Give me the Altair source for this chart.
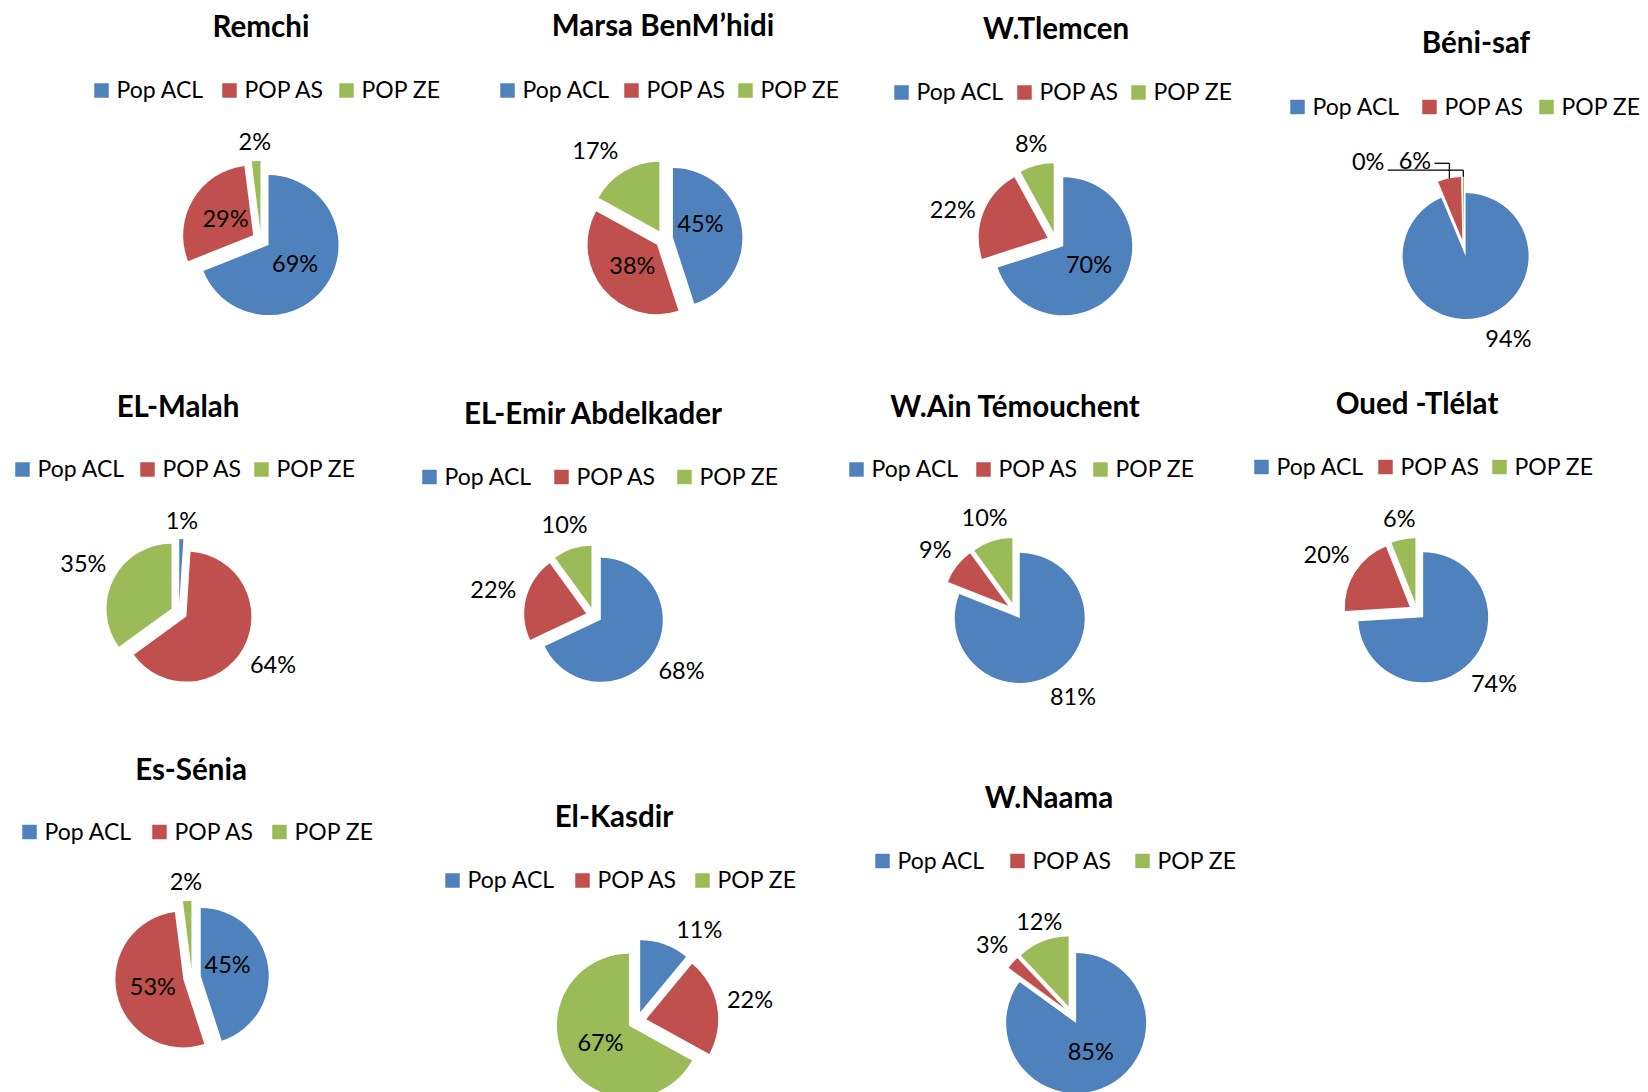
import altair as alt
import pandas as pd

# ---------------- data ----------------
charts = ["Remchi", "Marsa BenM’hidi", "W.Tlemcen", "Béni-saf",
          "EL-Malah", "EL-Emir Abdelkader", "W.Ain Témouchent", "Oued -Tlélat",
          "Es-Sénia", "El-Kasdir", "W.Naama"]
categories = ["Pop ACL", "POP AS", "POP ZE"]
pop_acl = [69, 45, 70, 94, 1, 68, 81, 74, 45, 11, 85]
pop_as = [29, 38, 22, 6, 64, 22, 9, 20, 53, 22, 3]
pop_ze = [2, 17, 8, 0.3, 35, 10, 10, 6, 2, 67, 12]
series = [pop_acl, pop_as, pop_ze]
colors = ["#4F81BD", "#C0504D", "#9BBB59"]

# ---------------- layout (page pixels) ----------------
# tx, ty: title centre / baseline; ly: legend row centre; lx: legend square left edges
# cx, cy, r: pie centre and radius; thr: share from which a label sits inside
layout = {
    "Remchi":             dict(tx=261, ty=37, ly=90.5, lx=[94, 222, 339], cx=261, cy=240, r=70, thr=0.25),
    "Marsa BenM’hidi":    dict(tx=663, ty=36, ly=90.5, lx=[500, 624, 738], cx=664, cy=239, r=69.5, thr=0.30),
    "W.Tlemcen":          dict(tx=1056, ty=39, ly=92.5, lx=[894, 1017, 1131], cx=1056, cy=241, r=69, thr=0.50),
    "Béni-saf":           dict(tx=1476, ty=53, ly=107, lx=[1290, 1422, 1539], cx=1464, cy=248, r=63, thr=2),
    "EL-Malah":           dict(tx=178, ty=417, ly=469.5, lx=[15, 140, 254], cx=179, cy=612.5, r=65, thr=2),
    "EL-Emir Abdelkader": dict(tx=593, ty=424, ly=477, lx=[422, 554, 677], cx=594, cy=615.5, r=62, thr=2),
    "W.Ain Témouchent":   dict(tx=1015, ty=417, ly=469.5, lx=[849, 976, 1093], cx=1015, cy=611, r=65, thr=2),
    "Oued -Tlélat":       dict(tx=1417, ty=414, ly=467, lx=[1254, 1378, 1492], cx=1417, cy=611.5, r=65, thr=2),
    "Es-Sénia":           dict(tx=191, ty=780, ly=832, lx=[22, 152, 272], cx=192, cy=977.5, r=68, thr=0.40),
    "El-Kasdir":          dict(tx=614, ty=827, ly=880.5, lx=[445, 575, 695], cx=637, cy=1021, r=72, thr=0.50),
    "W.Naama":            dict(tx=1049, ty=808, ly=861, lx=[875, 1010, 1135], cx=1072, cy=1015, r=70, thr=0.50),
}
# manual label moves (dx, dy, leader-line dy or None)
label_nudge = {
    ("Béni-saf", "Pop ACL"): (26, -2, None),
    ("Béni-saf", "POP AS"): (-30, 3, 3),
    ("Béni-saf", "POP ZE"): (-95, 3, 9),
    ("El-Kasdir", "Pop ACL"): (26, 9, None),
    ("Marsa BenM’hidi", "Pop ACL"): (-4, -9, None),
    ("Marsa BenM’hidi", "POP ZE"): (-14, 4, None),
    ("W.Tlemcen", "POP AS"): (1, 10, None),
    ("Es-Sénia", "Pop ACL"): (-4, -7, None),
    ("W.Naama", "POP ZE"): (6, 4, None),
}

rows = []
for i, ch in enumerate(charts):
    L = layout[ch]
    for j, cat in enumerate(categories):
        nd = label_nudge.get((ch, cat), (0, 0, None))
        rows.append(dict(chart=ch, category=cat, ord=j, value=series[j][i],
                         cx=L["cx"], cy=L["cy"], r=L["r"], thr=L["thr"],
                         ndx=nd[0], ndy=nd[1], lead=0 if nd[2] is None else 1,
                         ldy=0 if nd[2] is None else nd[2]))
pie_df = pd.DataFrame(rows)

title_df = pd.DataFrame([dict(chart=ch, tx=layout[ch]["tx"], ty=layout[ch]["ty"]) for ch in charts])
leg_rows = []
for ch in charts:
    L = layout[ch]
    for j, cat in enumerate(categories):
        leg_rows.append(dict(chart=ch, category=cat, sqx=L["lx"][j] + 7.5,
                             txx=L["lx"][j] + 22.5, ly=L["ly"]))
leg_df = pd.DataFrame(leg_rows)

FONT = "Lato"
H = 1084
XS = alt.Scale(domain=[8, 1640], range=[0, 1632], nice=False, zero=False)
YS = alt.Scale(domain=[8, 8 + H], range=[0, H], nice=False, zero=False)
CS = alt.Scale(domain=categories, range=colors)

base = (
    alt.Chart(pie_df)
    .transform_joinaggregate(total="sum(value)", groupby=["chart"])
    .transform_window(cum="sum(value)", groupby=["chart"],
                      sort=[alt.SortField("ord", order="ascending")], frame=[None, 0])
    .transform_calculate(t1="2*PI*datum.cum/datum.total")
    .transform_calculate(t0="datum.t1 - 2*PI*datum.value/datum.total")
    .transform_calculate(mid="(datum.t0 + datum.t1)/2", pct="datum.value/datum.total")
    .transform_calculate(sx="sin(datum.mid)", sy="-cos(datum.mid)", e="0.13*datum.r",
                         lab="format(datum.pct, '.0%')")
    .transform_calculate(px="datum.cx + datum.e*datum.sx", py="datum.cy + datum.e*datum.sy",
                         hw="(14*(length(datum.lab)-1) + 17)/2")
    .transform_calculate(
        dist="datum.pct >= datum.thr ? datum.e + 0.46*datum.r : "
             "datum.r + datum.e + 10 + datum.hw*abs(datum.sx) + 8.5*abs(datum.sy)")
    .transform_calculate(lx="datum.cx + datum.dist*datum.sx + datum.ndx",
                         ly="datum.cy + datum.dist*datum.sy + datum.ndy",
                         ox="datum.cx + (datum.r + datum.e)*datum.sx",
                         oy="datum.cy + (datum.r + datum.e)*datum.sy")
    .transform_calculate(hx="datum.lx + datum.hw + 4", hy="datum.ly + datum.ldy")
)

arcs = base.mark_arc().encode(
    x=alt.X("px:Q", scale=XS, axis=None),
    y=alt.Y("py:Q", scale=YS, axis=None),
    theta=alt.Theta("t0:Q", scale=None, stack=False),
    theta2=alt.Theta2("t1:Q"),
    radius=alt.Radius("r:Q", scale=None, stack=False),
    color=alt.Color("category:N", scale=CS, legend=None),
)

lead_h = base.transform_filter("datum.lead == 1").mark_rule(color="black", strokeWidth=1.3).encode(
    x=alt.X("hx:Q", scale=XS, axis=None), x2="ox:Q",
    y=alt.Y("hy:Q", scale=YS, axis=None))
lead_v = base.transform_filter("datum.lead == 1").mark_rule(color="black", strokeWidth=1.3).encode(
    x=alt.X("ox:Q", scale=XS, axis=None),
    y=alt.Y("hy:Q", scale=YS, axis=None), y2="oy:Q")

labels = base.mark_text(font=FONT, fontSize=23.5, align="center", baseline="alphabetic",
                        dy=8.4, color="black").encode(
    x=alt.X("lx:Q", scale=XS, axis=None),
    y=alt.Y("ly:Q", scale=YS, axis=None),
    text="lab:N")

leg_sq = alt.Chart(leg_df).mark_square(size=210, filled=True, opacity=1).encode(
    x=alt.X("sqx:Q", scale=XS, axis=None),
    y=alt.Y("ly:Q", scale=YS, axis=None),
    color=alt.Color("category:N", scale=CS, legend=None))
leg_tx = alt.Chart(leg_df).mark_text(font=FONT, fontSize=23, align="left", baseline="alphabetic",
                                     dy=7.8, color="black").encode(
    x=alt.X("txx:Q", scale=XS, axis=None),
    y=alt.Y("ly:Q", scale=YS, axis=None),
    text="category:N")

titles = alt.Chart(title_df).mark_text(font=FONT, fontSize=29.5, fontWeight="bold", align="center",
                                       baseline="alphabetic", color="black").encode(
    x=alt.X("tx:Q", scale=XS, axis=None),
    y=alt.Y("ty:Q", scale=YS, axis=None),
    text="chart:N")

chart = (
    alt.layer(arcs, lead_h, lead_v, labels, leg_sq, leg_tx, titles)
    .properties(width=1632, height=H, autosize=alt.AutoSizeParams(type="none"), padding=0)
    .configure_view(stroke=None)
)
chart.save("out.html", embed_options={"renderer": "svg", "actions": False})
